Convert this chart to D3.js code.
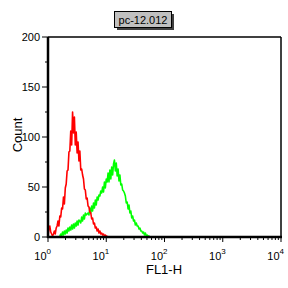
<!DOCTYPE html>
<html>
<head>
<meta charset="utf-8">
<script src="https://cdn.jsdelivr.net/npm/d3@7"></script>
<style>
  html, body { margin: 0; padding: 0; background: #fff; }
  svg { display: block; font-family: "Liberation Sans", Arial, sans-serif; }
</style>
</head>
<body>
<div id="chart"></div>
<script>
// histogram data: 256 log channels over 4 decades, counts per channel
const channelsPerDecade = 64;
const redStartChannel = 0;
const redCounts = [0, 9, 11, 5, 3, 1, 3, 6, 3, 9, 11, 16, 11, 21, 20, 29, 28, 40, 33, 49,
  53, 66, 67, 85, 86, 106, 92, 125, 104, 120, 92, 105, 84, 95, 76, 86, 67, 68, 62, 58,
  48, 47, 38, 39, 31, 30, 25, 24, 18, 19, 13, 14, 9, 10, 6, 8, 4, 6, 3, 4,
  2, 3, 1, 2, 1, 0, 1];
const greenStartChannel = 13;
const greenCounts = [1, 3, 1, 5, 2, 6, 3, 7, 4, 9, 6, 10, 7, 12, 8, 13, 9, 14, 11, 16,
  12, 17, 16, 14, 20, 16, 22, 18, 24, 22, 23, 24, 22, 29, 24, 31, 26, 34, 29, 37,
  32, 40, 37, 42, 41, 46, 44, 50, 45, 55, 49, 58, 55, 64, 55, 67, 58, 70, 62, 73,
  77, 66, 74, 61, 68, 56, 62, 52, 53, 47, 46, 44, 41, 34, 35, 28, 32, 24, 26, 19,
  21, 16, 17, 12, 14, 11, 11, 8, 9, 6, 6, 4, 5, 2, 4, 1, 2, 1, 1, 0];

const yTicks = [0, 50, 100, 150, 200];
const yMinorTicks = [25, 75, 125, 175];
const xDecades = [0, 1, 2, 3, 4];
const title = 'pc-12.012';
const xLabel = 'FL1-H';
const yLabel = 'Count';

const width = 288, height = 288;
const margin = { left: 48, top: 37, right: 7, bottom: 51 };
const plotW = width - margin.left - margin.right;
const plotH = height - margin.top - margin.bottom;

const svg = d3.select('#chart').append('svg')
  .attr('width', width).attr('height', height);

const x = d3.scaleLog().domain([1, 10000]).range([margin.left, margin.left + plotW]);
const y = d3.scaleLinear().domain([0, 200]).range([margin.top + plotH, margin.top]);

const toPoints = (start, counts) => counts.map((c, i) => ({
  v: Math.pow(10, (start + i) / channelsPerDecade), c
}));

const line = d3.line().x(d => x(d.v)).y(d => y(d.c));
svg.append('clipPath').attr('id', 'plotClip').append('rect')
  .attr('x', margin.left).attr('y', margin.top).attr('width', plotW).attr('height', plotH);

const series = [
  { pts: toPoints(greenStartChannel, greenCounts), color: '#00ff00' },
  { pts: toPoints(redStartChannel, redCounts), color: '#ff0000' }
];
series.forEach(s => {
  svg.append('path')
    .datum(s.pts)
    .attr('clip-path', 'url(#plotClip)')
    .attr('fill', 'none')
    .attr('stroke', s.color)
    .attr('stroke-width', 1.6)
    .attr('stroke-linejoin', 'round')
    .attr('d', line);
});

// frame
svg.append('line').attr('x1', margin.left).attr('x2', margin.left + plotW)
  .attr('y1', margin.top).attr('y2', margin.top).attr('stroke', '#000').attr('stroke-width', 1.5);
svg.append('line').attr('x1', margin.left + plotW).attr('x2', margin.left + plotW)
  .attr('y1', margin.top).attr('y2', margin.top + plotH).attr('stroke', '#000').attr('stroke-width', 1.5);

// y axis
const yAxis = svg.append('g');
yAxis.selectAll('.major').data(yTicks).enter().append('line')
  .attr('x1', margin.left - 6).attr('x2', margin.left)
  .attr('y1', d => y(d)).attr('y2', d => y(d)).attr('stroke', '#000');
yAxis.selectAll('.minor').data(yMinorTicks).enter().append('line')
  .attr('x1', margin.left - 3).attr('x2', margin.left)
  .attr('y1', d => y(d)).attr('y2', d => y(d)).attr('stroke', '#000');
yAxis.selectAll('text').data(yTicks).enter().append('text')
  .attr('x', margin.left - 8).attr('y', d => y(d) + 4)
  .attr('text-anchor', 'end').attr('font-size', 11).text(d => d);
svg.append('line').attr('x1', margin.left).attr('x2', margin.left)
  .attr('y1', margin.top).attr('y2', margin.top + plotH + 1).attr('stroke', '#000').attr('stroke-width', 2.5);

// x axis
const xAxis = svg.append('g');
const minor = [];
xDecades.slice(0, -1).forEach(p => { for (let k = 2; k <= 9; k++) minor.push(k * Math.pow(10, p)); });
const yb = margin.top + plotH;
xAxis.selectAll('.minor').data(minor).enter().append('line')
  .attr('x1', d => x(d)).attr('x2', d => x(d))
  .attr('y1', yb).attr('y2', yb + 3).attr('stroke', '#000');
xAxis.selectAll('.major').data(xDecades).enter().append('line')
  .attr('x1', d => x(Math.pow(10, d))).attr('x2', d => x(Math.pow(10, d)))
  .attr('y1', yb).attr('y2', yb + 5).attr('stroke', '#000');
const xl = xAxis.selectAll('text').data(xDecades).enter().append('text')
  .attr('x', d => x(Math.pow(10, d)) + 3).attr('y', 260)
  .attr('text-anchor', 'end').attr('font-size', 11);
xl.append('tspan').text('10');
xl.append('tspan').attr('font-size', 8).attr('dy', -6).text(d => d);
svg.append('line').attr('x1', margin.left - 1).attr('x2', margin.left + plotW + 1)
  .attr('y1', yb).attr('y2', yb).attr('stroke', '#000').attr('stroke-width', 2.5);

// axis titles
svg.append('text').attr('x', 164).attr('y', 274).attr('text-anchor', 'middle')
  .attr('font-size', 13).text(xLabel);
svg.append('text').attr('transform', 'translate(21.5,135) rotate(-90)')
  .attr('text-anchor', 'middle').attr('font-size', 13).text(yLabel);

// title box with shadow
svg.append('rect').attr('x', 117).attr('y', 14).attr('width', 57).attr('height', 16).attr('fill', '#404040');
svg.append('rect').attr('x', 114.5).attr('y', 11.5).attr('width', 57).attr('height', 16)
  .attr('fill', '#c0c0c0').attr('stroke', '#000');
svg.append('text').attr('x', 143).attr('y', 23.5).attr('text-anchor', 'middle')
  .attr('font-size', 11).text(title);
</script>
</body>
</html>
